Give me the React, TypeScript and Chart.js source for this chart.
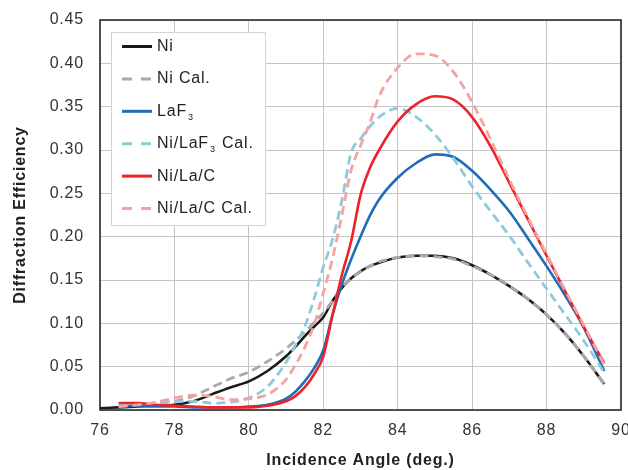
import React, { useEffect, useRef } from "react";
import { Chart, registerables } from "chart.js";

Chart.register(...registerables);

const angles = [76, 76.5, 77, 77.5, 78, 78.5, 79, 79.5, 80, 80.5, 81, 81.25, 81.5, 81.75, 82, 82.25, 82.5, 82.75, 83, 83.25, 83.5, 84, 84.5, 85, 85.5, 86, 86.5, 87, 87.5, 88, 88.5, 89, 89.55];

const niMeasured = [0.002, 0.003, 0.004, 0.005, 0.006, 0.010, 0.018, 0.026, 0.033, 0.045, 0.062, 0.073, 0.085, 0.096, 0.107, 0.126, 0.141, 0.152, 0.160, 0.166, 0.170, 0.176, 0.178, 0.178, 0.175, 0.167, 0.156, 0.143, 0.128, 0.110, 0.088, 0.062, 0.030];
const niCalc = [null, 0.004, 0.006, 0.008, 0.010, 0.016, 0.026, 0.036, 0.044, 0.056, 0.071, 0.080, 0.090, 0.101, 0.112, 0.126, 0.141, 0.152, 0.160, 0.166, 0.171, 0.176, 0.178, 0.177, 0.174, 0.166, 0.156, 0.143, 0.128, 0.110, 0.088, 0.062, 0.030];
const laf3Measured = [null, 0.004, 0.005, 0.004, 0.004, 0.003, 0.003, 0.003, 0.004, 0.006, 0.013, 0.021, 0.033, 0.048, 0.069, 0.110, 0.145, 0.174, 0.200, 0.224, 0.243, 0.268, 0.285, 0.295, 0.292, 0.276, 0.254, 0.229, 0.198, 0.166, 0.132, 0.095, 0.045];
const niLaf3Calc = [null, 0.005, 0.007, 0.008, 0.010, 0.010, 0.008, 0.009, 0.014, 0.027, 0.055, 0.075, 0.096, 0.128, 0.165, 0.197, 0.242, 0.297, 0.313, 0.327, 0.338, 0.348, 0.338, 0.318, 0.290, 0.258, 0.229, 0.201, 0.170, 0.140, 0.110, 0.080, 0.043];
const niLaCMeasured = [null, 0.008, 0.008, 0.006, 0.005, 0.004, 0.003, 0.003, 0.003, 0.005, 0.010, 0.016, 0.026, 0.041, 0.062, 0.110, 0.156, 0.195, 0.248, 0.279, 0.300, 0.333, 0.353, 0.362, 0.358, 0.338, 0.304, 0.262, 0.220, 0.178, 0.137, 0.096, 0.054];
const niLaCCalc = [null, 0.004, 0.006, 0.009, 0.014, 0.017, 0.016, 0.012, 0.013, 0.018, 0.035, 0.052, 0.072, 0.098, 0.135, 0.175, 0.225, 0.277, 0.305, 0.331, 0.362, 0.395, 0.411, 0.409, 0.390, 0.355, 0.312, 0.266, 0.222, 0.180, 0.138, 0.098, 0.052];

const seriesLabels = ["Ni", "Ni Cal.", "LaF\u2083", "Ni/LaF\u2083 Cal.", "Ni/La/C", "Ni/La/C Cal."];
const xTitle = "Incidence Angle (deg.)";
const yTitle = "Diffraction Efficiency";

const FONT = "'Liberation Sans', Arial, sans-serif";

function toPoints(vals: (number | null)[]) {
  const pts: { x: number; y: number }[] = [];
  vals.forEach((v, i) => {
    if (v !== null) pts.push({ x: angles[i], y: v });
  });
  return pts;
}

function drawLabel(ctx: CanvasRenderingContext2D, text: string, x: number, y: number) {
  const parts = text.split("\u2083");
  let cx = x;
  parts.forEach((p, i) => {
    ctx.font = `16px ${FONT}`;
    ctx.textBaseline = "middle";
    ctx.fillText(p, cx, y);
    cx += ctx.measureText(p).width;
    if (i < parts.length - 1) {
      ctx.font = `9px ${FONT}`;
      ctx.fillText("3", cx + 1, y + 6);
      cx += ctx.measureText("3").width + 2;
    }
  });
}

const spacingPlugin = {
  id: "spacing",
  beforeUpdate(chart: any) {
    chart.ctx.letterSpacing = "0.8px";
  },
  beforeDraw(chart: any) {
    chart.ctx.letterSpacing = "0.8px";
  },
};

const framePlugin = {
  id: "frameAndLegend",
  afterDatasetsDraw(chart: any) {
    const ctx: CanvasRenderingContext2D = chart.ctx;
    const { left, top, right, bottom } = chart.chartArea;
    ctx.save();
    ctx.strokeStyle = "#2b2b2b";
    ctx.lineWidth = 1.6;
    ctx.setLineDash([]);
    ctx.strokeRect(left, top, right - left, bottom - top);

    const bx = left + 11;
    const by = top + 12;
    const bw = 154;
    const bh = 193;
    ctx.fillStyle = "#ffffff";
    ctx.fillRect(bx, by, bw, bh);
    ctx.strokeStyle = "#d4d4d4";
    ctx.lineWidth = 1;
    ctx.strokeRect(bx + 0.5, by + 0.5, bw, bh);

    chart.data.datasets.forEach((ds: any, i: number) => {
      const y = by + 14.5 + i * 32.4;
      ctx.beginPath();
      ctx.setLineDash(ds.borderDash && ds.borderDash.length ? [10, 9] : []);
      ctx.strokeStyle = ds.borderColor;
      ctx.lineWidth = 3;
      ctx.moveTo(bx + 11, y);
      ctx.lineTo(bx + 41, y);
      ctx.stroke();
      ctx.setLineDash([]);
      ctx.fillStyle = "#222222";
      drawLabel(ctx, ds.label, bx + 46, y);
    });
    ctx.restore();
  },
};

export default function App() {
  const ref = useRef<HTMLCanvasElement | null>(null);

  useEffect(() => {
    document.body.style.margin = "0";
    if (!ref.current) return;
    const colors = ["#1a1a1a", "#a9a9a9", "#1f6cb8", "#8fcadb", "#ee2227", "#f4a3a3"];
    const series = [niMeasured, niCalc, laf3Measured, niLaf3Calc, niLaCMeasured, niLaCCalc];
    const dashed = [false, true, false, true, false, true];
    const orders = [6, 5, 4, 3, 2, 1];
    const chart = new Chart(ref.current, {
      type: "line",
      data: {
        datasets: series.map((s, i) => ({
          label: seriesLabels[i],
          data: toPoints(s),
          borderColor: colors[i],
          backgroundColor: colors[i],
          borderWidth: dashed[i] ? 2.8 : 2.6,
          borderDash: dashed[i] ? [9, 5] : [],
          pointRadius: 0,
          cubicInterpolationMode: "monotone" as const,
          fill: false,
          order: orders[i],
        })),
      },
      options: {
        animation: false,
        responsive: false,
        maintainAspectRatio: false,
        layout: { padding: { left: 0, right: 7, top: 20, bottom: 0 } },
        plugins: {
          legend: { display: false },
          tooltip: { enabled: false },
        },
        scales: {
          x: {
            type: "linear",
            min: 76,
            max: 90,
            ticks: {
              stepSize: 2,
              padding: 11,
              color: "#333333",
              font: { family: FONT, size: 16 },
            },
            grid: { color: "#c4c4c4", lineWidth: 1, drawTicks: false },
            border: { display: false },
            title: {
              display: true,
              text: xTitle,
              color: "#222222",
              font: { family: FONT, size: 16, weight: "bold" },
              padding: { top: 0, bottom: 0 },
            },
            afterFit(scale: any) {
              scale.height = 60;
              scale.paddingLeft = 0;
              scale.paddingRight = 0;
            },
          },
          y: {
            min: 0,
            max: 0.45,
            ticks: {
              stepSize: 0.05,
              padding: 16,
              color: "#333333",
              font: { family: FONT, size: 16 },
              callback: (v: any) => Number(v).toFixed(2),
            },
            grid: { color: "#c4c4c4", lineWidth: 1, drawTicks: false },
            border: { display: false },
            title: {
              display: true,
              text: yTitle,
              color: "#222222",
              font: { family: FONT, size: 16, weight: "bold" },
              padding: { top: 11, bottom: 0 },
            },
            afterFit(scale: any) {
              scale.width = 100;
              scale.paddingTop = 0;
              scale.paddingBottom = 0;
            },
          },
        },
      },
      plugins: [spacingPlugin, framePlugin],
    });
    return () => chart.destroy();
  }, []);

  return (
    <div style={{ width: 628, height: 470 }}>
      <canvas ref={ref} width={628} height={470} style={{ display: "block" }} />
    </div>
  );
}
